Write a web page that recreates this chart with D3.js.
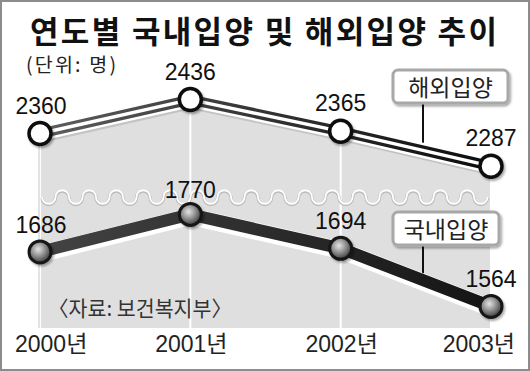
<!DOCTYPE html>
<html><head><meta charset="utf-8">
<script src="https://cdn.jsdelivr.net/npm/d3@7"></script>
<style>
html,body{margin:0;padding:0;background:#fff;}
svg{display:block;}
</style>
</head><body>
<svg id="c" width="530" height="371"></svg>
<script>
const title = "연도별 국내입양 및 해외입양 추이";
const unitLabel = "(단위: 명)";
const sourceLabel = "〈자료: 보건복지부〉";
const years = [2000, 2001, 2002, 2003];
const yearLabels = ["2000년", "2001년", "2002년", "2003년"];
const seriesNames = ["해외입양", "국내입양"];
const overseas = [2360, 2436, 2365, 2287];
const domestic = [1686, 1770, 1694, 1564];

const svg = d3.select("#c");
const numFont = "'Liberation Sans', Arial, 'Noto Sans CJK KR', sans-serif";
const krFont = "'Noto Sans CJK KR', 'Liberation Sans', sans-serif";

const x = d3.scaleLinear().domain([2000, 2003]).range([40, 491]);
const yUp = d3.scaleLinear().domain([2200, 2500]).range([205, 71]);
const yLow = d3.scaleLinear().domain([1500, 1800]).range([335, 201]);
const bottomY = 328;

const defs = svg.append("defs");
const gUp = defs.append("linearGradient").attr("id", "gUp").attr("gradientUnits", "userSpaceOnUse")
  .attr("x1", x(2000)).attr("x2", x(2003)).attr("y1", 0).attr("y2", 0);
gUp.append("stop").attr("offset", "0").attr("stop-color", "#5e5e5e");
gUp.append("stop").attr("offset", "0.5").attr("stop-color", "#333");
gUp.append("stop").attr("offset", "1").attr("stop-color", "#0c0c0c");
const gLow = defs.append("linearGradient").attr("id", "gLow").attr("gradientUnits", "userSpaceOnUse")
  .attr("x1", x(2000)).attr("x2", x(2003)).attr("y1", 0).attr("y2", 0);
gLow.append("stop").attr("offset", "0").attr("stop-color", "#444");
gLow.append("stop").attr("offset", "1").attr("stop-color", "#141414");
const rg = defs.append("radialGradient").attr("id", "ball").attr("cx", "0.42").attr("cy", "0.38").attr("r", "0.62");
rg.append("stop").attr("offset", "0").attr("stop-color", "#e4e4e4");
rg.append("stop").attr("offset", "0.45").attr("stop-color", "#9a9a9a");
rg.append("stop").attr("offset", "1").attr("stop-color", "#3c3c3c");
const sh = defs.append("filter").attr("id", "sh").attr("x", "-20%").attr("y", "-20%").attr("width", "150%").attr("height", "150%");
sh.append("feDropShadow").attr("dx", 1.5).attr("dy", 2).attr("stdDeviation", 1.2).attr("flood-color", "#000").attr("flood-opacity", 0.35);

// frame
svg.append("rect").attr("x", 1).attr("y", 1).attr("width", 528).attr("height", 369)
  .attr("fill", "#fff").attr("stroke", "#8c8c8c").attr("stroke-width", 2);

// title
svg.append("text").attr("x", 30).attr("y", 43).attr("textLength", 467).attr("lengthAdjust", "spacing")
  .attr("font-family", krFont).attr("font-weight", 700).attr("font-size", 31).attr("fill", "#111").text(title);
svg.append("text").attr("x", 26).attr("y", 72).attr("textLength", 90).attr("lengthAdjust", "spacing")
  .attr("font-family", krFont).attr("font-size", 19.5).attr("fill", "#222").text(unitLabel);

// shaded area
const area = d3.area().x((d, i) => x(years[i])).y0(bottomY).y1(d => yUp(d));
svg.append("path").datum(overseas).attr("d", area).attr("fill", "#dfdfdf");

// grid lines
svg.selectAll(".grid").data(years).join("line").attr("class", "grid")
  .attr("x1", d => x(d)).attr("x2", d => x(d))
  .attr("y1", (d, i) => yUp(overseas[i])).attr("y2", bottomY)
  .attr("stroke", "#fff").attr("stroke-width", 2);
svg.append("line").attr("x1", x(2000) - 1).attr("x2", x(2000) - 1).attr("y1", yUp(overseas[0])).attr("y2", bottomY)
  .attr("stroke", "#c8c8c8").attr("stroke-width", 1);

// wave break
(function () {
  const y0 = 197, h = 13.5, r = 6.75;
  let d = `M${x(2000) + 2},${y0}`;
  let cx = x(2000) + 2, k = 0;
  while (cx + h <= x(2003) + 0.5) {
    d += ` a${r},${r} 0 0 ${k % 2 === 0 ? 0 : 1} ${h},0`;
    cx += h; k++;
  }
  svg.append("path").attr("d", d).attr("fill", "none").attr("stroke", "#bcbcbc").attr("stroke-width", 3.2)
    .attr("transform", "translate(0,0.8)");
  svg.append("path").attr("d", d).attr("fill", "none").attr("stroke", "#fff").attr("stroke-width", 1.8);
})();

// source
svg.append("text").attr("x", 48).attr("y", 316).attr("textLength", 184).attr("lengthAdjust", "spacingAndGlyphs")
  .attr("font-family", krFont).attr("font-size", 21).attr("fill", "#333").text(sourceLabel);

// legend boxes + connectors
function lineYAt(vals, sc, px) {
  const xs = years.map(x);
  for (let i = 0; i < xs.length - 1; i++) {
    if (px >= xs[i] && px <= xs[i + 1]) {
      const t = (px - xs[i]) / (xs[i + 1] - xs[i]);
      return sc(vals[i]) + t * (sc(vals[i + 1]) - sc(vals[i]));
    }
  }
  return sc(vals[vals.length - 1]);
}
const legends = [
  {name: seriesNames[0], vals: overseas, sc: yUp, bx: 393, by: 70, bw: 115, bh: 33},
  {name: seriesNames[1], vals: domestic, sc: yLow, bx: 393, by: 212, bw: 106, bh: 33}
];
legends.forEach(l => {
  const cxL = 423;
  svg.append("line").attr("x1", cxL).attr("x2", cxL).attr("y1", l.by + l.bh)
    .attr("y2", lineYAt(l.vals, l.sc, cxL) - 3).attr("stroke", "#111").attr("stroke-width", 2);
  svg.append("rect").attr("x", l.bx).attr("y", l.by).attr("width", l.bw).attr("height", l.bh)
    .attr("rx", 5).attr("fill", "#fff").attr("stroke", "#a8a8a8").attr("stroke-width", 3).attr("filter", "url(#sh)");
  svg.append("text").attr("x", l.bx + l.bw / 2).attr("y", l.by + 26).attr("text-anchor", "middle")
    .attr("font-family", krFont).attr("font-size", 23).attr("fill", "#222").text(l.name);
});

// lines
const lineUp = d3.line().x((d, i) => x(years[i])).y(d => yUp(d));
const lineLow = d3.line().x((d, i) => x(years[i])).y(d => yLow(d));

svg.append("path").datum(overseas).attr("d", lineUp).attr("fill", "none").attr("stroke", "#b0b0b0")
  .attr("stroke-width", 14).attr("stroke-linejoin", "round").attr("transform", "translate(1,2.5)").attr("opacity", 0.6);
svg.append("path").datum(overseas).attr("d", lineUp).attr("fill", "none").attr("stroke", "#fff")
  .attr("stroke-width", 15).attr("stroke-linejoin", "round");
svg.append("path").datum(overseas).attr("d", lineUp).attr("fill", "none").attr("stroke", "url(#gUp)")
  .attr("stroke-width", 10).attr("stroke-linejoin", "round");
svg.append("path").datum(overseas).attr("d", lineUp).attr("fill", "none").attr("stroke", "#fff")
  .attr("stroke-width", 3.4).attr("stroke-linejoin", "round");

svg.append("path").datum(domestic).attr("d", lineLow).attr("fill", "none").attr("stroke", "#fff")
  .attr("stroke-width", 17).attr("stroke-linejoin", "round").attr("transform", "translate(0,2)");
svg.append("path").datum(domestic).attr("d", lineLow).attr("fill", "none").attr("stroke", "url(#gLow)")
  .attr("stroke-width", 12).attr("stroke-linejoin", "round");

// markers
svg.selectAll(".mu").data(overseas).join("circle").attr("class", "mu")
  .attr("cx", (d, i) => x(years[i])).attr("cy", d => yUp(d)).attr("r", 11)
  .attr("fill", "#fff").attr("stroke", "#111").attr("stroke-width", 3.5).attr("filter", "url(#sh)");
svg.selectAll(".ml").data(domestic).join("circle").attr("class", "ml")
  .attr("cx", (d, i) => x(years[i])).attr("cy", d => yLow(d)).attr("r", 11)
  .attr("fill", "url(#ball)").attr("stroke", "#161616").attr("stroke-width", 3).attr("filter", "url(#sh)");

// value labels
const valFont = 23;
svg.selectAll(".vu").data(overseas).join("text").attr("class", "vu")
  .attr("x", (d, i) => x(years[i]) + (i === 0 ? 1 : 0)).attr("y", d => yUp(d) - 20)
  .attr("text-anchor", "middle").attr("font-family", numFont).attr("font-size", valFont)
  .attr("fill", "#111").text(d => d);
svg.selectAll(".vl").data(domestic).join("text").attr("class", "vl")
  .attr("x", (d, i) => x(years[i]) + (i === 0 ? 1 : 0)).attr("y", (d, i) => yLow(d) - (i === 1 ? 16 : 19))
  .attr("text-anchor", "middle").attr("font-family", numFont).attr("font-size", valFont)
  .attr("fill", "#111").text(d => d);

// year labels
svg.selectAll(".yl").data(yearLabels).join("text").attr("class", "yl")
  .attr("x", (d, i) => i === 0 ? 15 : (i === years.length - 1 ? 515 : x(years[i]) + 1))
  .attr("y", 352)
  .attr("text-anchor", (d, i) => i === 0 ? "start" : (i === years.length - 1 ? "end" : "middle"))
  .attr("font-family", numFont).attr("font-size", 23).attr("fill", "#222").text(d => d);
</script>
</body></html>
